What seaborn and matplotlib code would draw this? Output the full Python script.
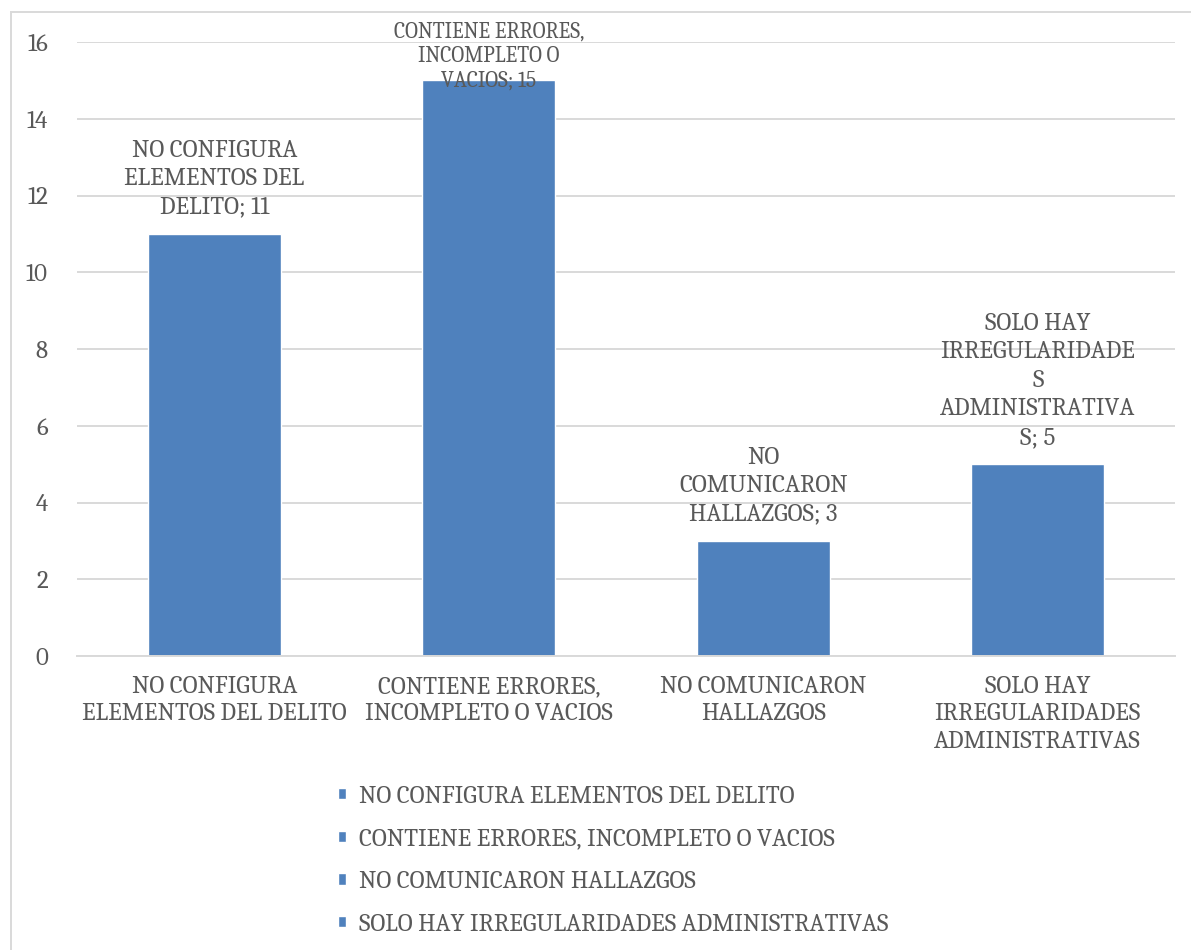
import matplotlib
matplotlib.use("Agg")
import matplotlib.pyplot as plt
from matplotlib.patches import Rectangle
import pandas as pd
import seaborn as sns

# Categorías y conteos
categorias = [
    "NO CONFIGURA ELEMENTOS DEL DELITO",
    "CONTIENE ERRORES, INCOMPLETO O VACIOS",
    "NO COMUNICARON HALLAZGOS",
    "SOLO HAY IRREGULARIDADES ADMINISTRATIVAS",
]
valores = [11, 15, 3, 5]
etiquetas_eje = [
    "NO CONFIGURA\nELEMENTOS DEL DELITO",
    "CONTIENE ERRORES,\nINCOMPLETO O VACIOS",
    "NO COMUNICARON\nHALLAZGOS",
    "SOLO HAY\nIRREGULARIDADES\nADMINISTRATIVAS",
]
etiquetas_barra = [
    "NO CONFIGURA\nELEMENTOS DEL\nDELITO",
    "CONTIENE ERRORES,\nINCOMPLETO O\nVACIOS",
    "NO\nCOMUNICARON\nHALLAZGOS",
    "SOLO HAY\nIRREGULARIDADE\nS\nADMINISTRATIVA\nS",
]
yticks = [0, 2, 4, 6, 8, 10, 12, 14, 16]

AZUL = "#4F81BD"
GRIS_TEXTO = "#595959"
GRIS_LINEA = "#D9D9D9"
TAM = 18

sns.set_theme(style="white")
plt.rcParams["font.family"] = ["Caladea", "DejaVu Serif"]

df = pd.DataFrame({"categoria": categorias, "valor": valores})

fig = plt.figure(figsize=(11.91, 9.5), dpi=100)
ax = fig.add_axes([77 / 1191, 1 - 656 / 950, (1175 - 77) / 1191, (656 - 42) / 950])

sns.barplot(data=df, x="categoria", y="valor", hue="categoria", order=categorias,
            hue_order=categorias, palette=[AZUL] * 4, dodge=False, width=0.485,
            saturation=1, ax=ax, legend=True)

ax.set_ylim(0, 16)
ax.set_xlim(-0.5, 3.5)
ax.set_yticks(yticks)
ax.set_yticklabels([str(t) for t in yticks])
ax.yaxis.grid(True, color=GRIS_LINEA, linewidth=1.4)
ax.set_axisbelow(True)
for lado in ["left", "right", "top"]:
    ax.spines[lado].set_visible(False)
ax.spines["bottom"].set_color(GRIS_LINEA)
ax.spines["bottom"].set_linewidth(1.4)

ax.set_xticks(range(len(categorias)))
ax.set_xticklabels(etiquetas_eje, fontsize=TAM, color=GRIS_TEXTO, linespacing=1.27)
ax.set_xticks([-0.5, 0.5, 1.5, 2.5, 3.5], minor=True)
ax.tick_params(axis="x", which="major", length=0, pad=14)
ax.tick_params(axis="x", which="minor", length=6, width=1.4, color=GRIS_LINEA)
ax.tick_params(axis="y", length=0, pad=21, labelsize=TAM, labelcolor=GRIS_TEXTO)
ax.set_xlabel("")
ax.set_ylabel("")

# Etiquetas de datos sobre cada barra
for i, (texto, v) in enumerate(zip(etiquetas_barra, valores)):
    etiqueta = f"{texto}; {v}"
    if i == 1:
        ax.annotate(etiqueta, xy=(i, v), xytext=(0, -8), textcoords="offset points",
                    ha="center", va="bottom", fontsize=15.5, color=GRIS_TEXTO,
                    linespacing=1.22, annotation_clip=False)
    else:
        ax.annotate(etiqueta, xy=(i, v), xytext=(0, 11), textcoords="offset points",
                    ha="center", va="bottom", fontsize=TAM, color=GRIS_TEXTO,
                    linespacing=1.33, annotation_clip=False)

# Leyenda vertical debajo del gráfico
handles, labels = ax.get_legend_handles_labels()
ax.get_legend().remove()
fig.legend(handles, labels, loc="upper center", bbox_to_anchor=(0.515, 1 - 775 / 950),
           ncol=1, frameon=False, fontsize=TAM, labelcolor=GRIS_TEXTO,
           handlelength=0.32, handleheight=0.32, handletextpad=0.5,
           labelspacing=0.8, borderaxespad=0)

# Marco del área del gráfico
fig.patches.append(Rectangle((11 / 1191, -0.05), 1.2, 1 - 12 / 950 + 0.05,
                             transform=fig.transFigure, fill=False,
                             edgecolor=GRIS_LINEA, linewidth=1.4))

fig.savefig("out.png", dpi=100, facecolor="white")
